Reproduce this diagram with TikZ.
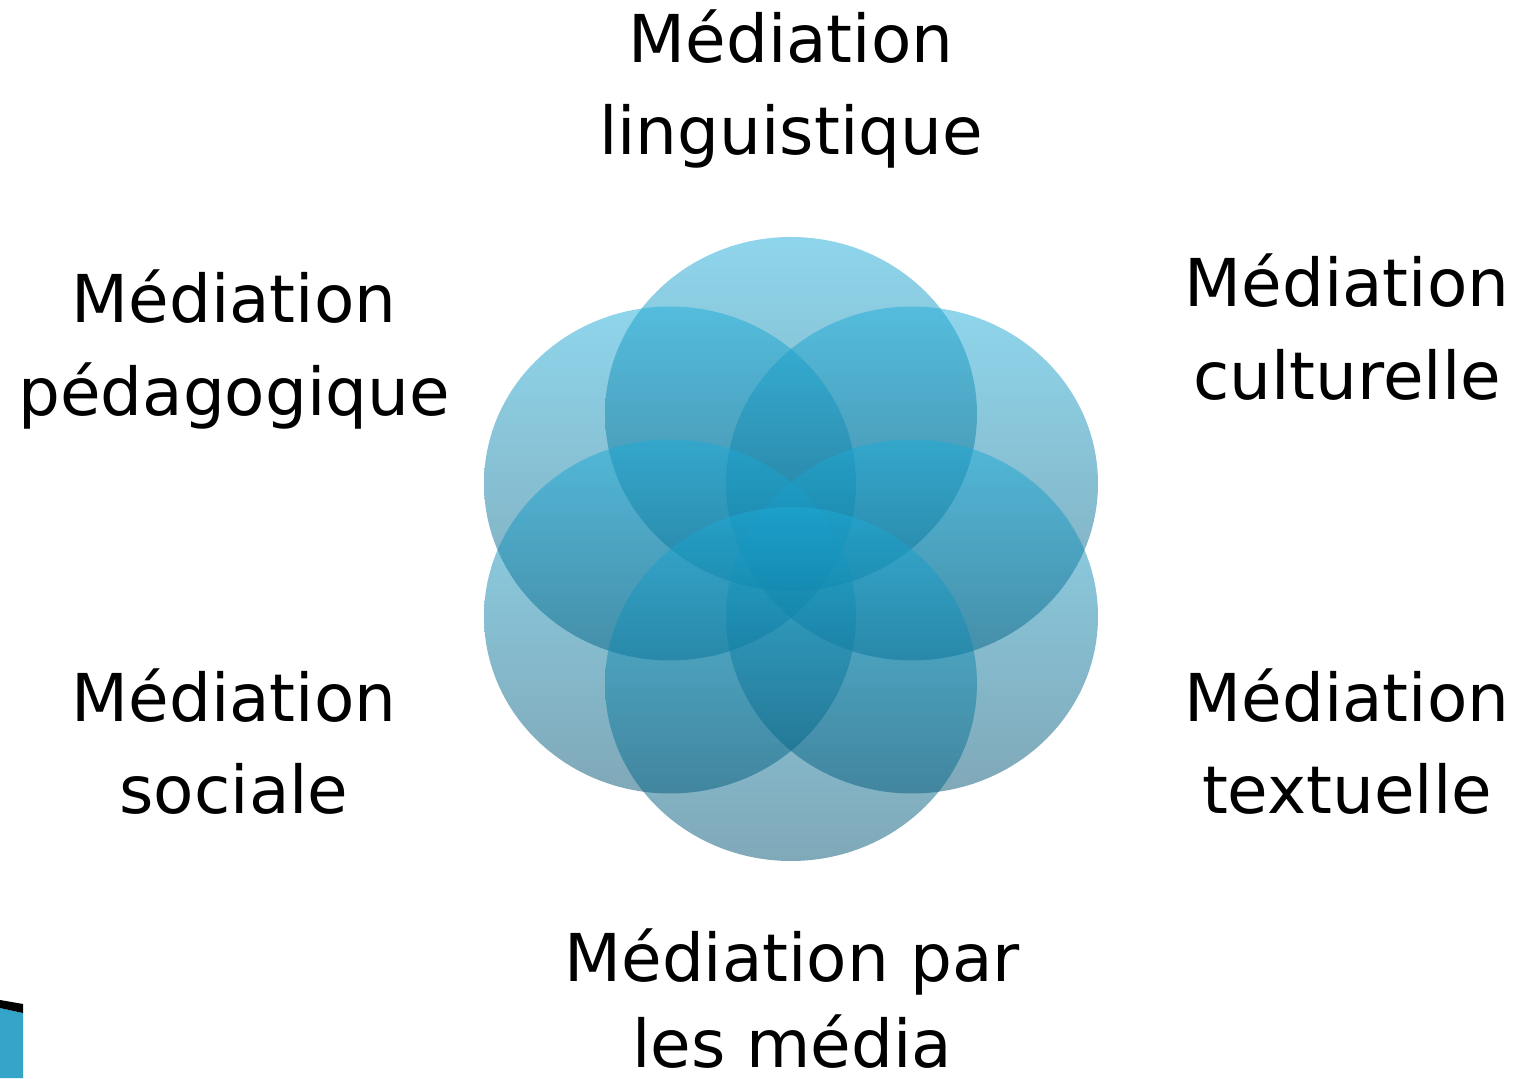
\documentclass[tikz,border=0pt]{standalone}
\usepackage{fontspec}
\setmainfont{DejaVu Sans}
\definecolor{ctop}{RGB}{30,172,216}
\definecolor{cbot}{RGB}{0,82,114}
\definecolor{cornerblue}{RGB}{52,165,200}
\begin{document}
\begin{tikzpicture}[x=0.5pt,y=0.5pt,
  petal/.style={top color=ctop,bottom color=cbot,fill opacity=0.5,draw=none},
  lbl/.style={anchor=base,inner sep=0pt,font=\fontsize{33pt}{40pt}\selectfont}]
\useasboundingbox (0,0) rectangle (1522,1078);
% circles
\shade[petal] (791,664) ellipse[x radius=93pt,y radius=88.5pt];
\shade[petal] (670,594.5) ellipse[x radius=93pt,y radius=88.5pt];
\shade[petal] (912,594.5) ellipse[x radius=93pt,y radius=88.5pt];
\shade[petal] (670,461.5) ellipse[x radius=93pt,y radius=88.5pt];
\shade[petal] (912,461.5) ellipse[x radius=93pt,y radius=88.5pt];
\shade[petal] (791,394) ellipse[x radius=93pt,y radius=88.5pt];
% labels
\node[lbl] (ling1) at (791,1015) {Médiation};
\node[lbl] (ling2) at (791,923) {linguistique};
\node[lbl] (ped1) at (234,755) {Médiation};
\node[lbl] (ped2) at (234,662) {pédagogique};
\node[lbl] (cul1) at (1347,771) {Médiation};
\node[lbl] (cul2) at (1347,678) {culturelle};
\node[lbl] (soc1) at (234,357) {Médiation};
\node[lbl] (soc2) at (234,265) {sociale};
\node[lbl] (tex1) at (1347,357) {Médiation};
\node[lbl] (tex2) at (1347,265) {textuelle};
\node[lbl] (med1) at (792,97) {Médiation par};
\node[lbl] (med2) at (792,11) {les média};
% corner fragment
\fill[cornerblue] (0,0) -- (23,0) -- (23,65) -- (0,70) -- cycle;
\fill[black] (0,70) -- (23,65) -- (23,74) -- (0,78) -- cycle;
\end{tikzpicture}
\end{document}
